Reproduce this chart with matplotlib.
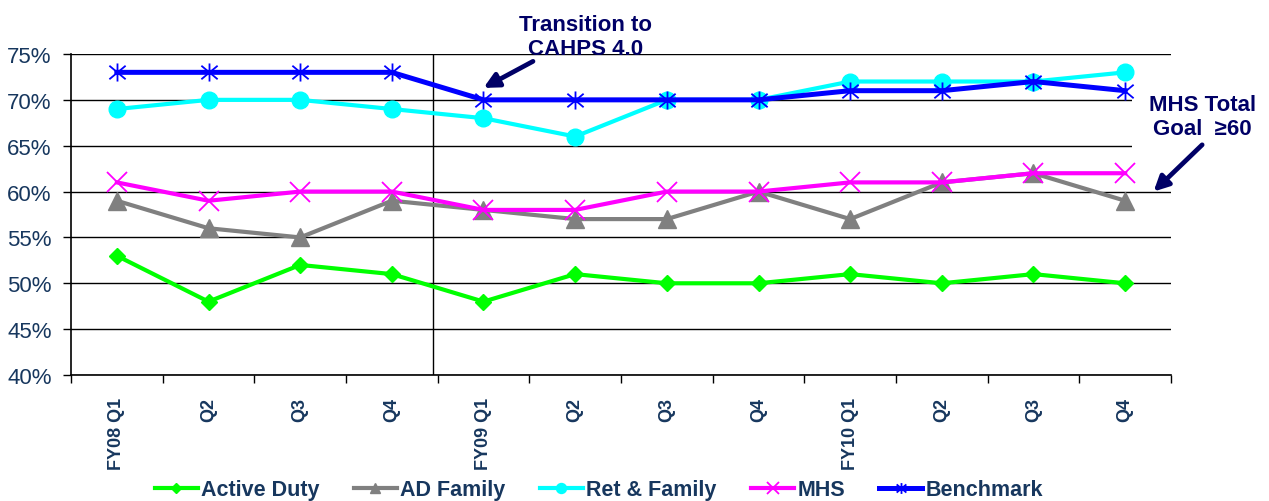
import matplotlib
matplotlib.use("Agg")
import matplotlib.pyplot as plt
from matplotlib.path import Path
from matplotlib.ticker import FuncFormatter, MultipleLocator, FixedLocator

plt.rcParams['font.family'] = ['Liberation Sans', 'DejaVu Sans']

# Quarterly survey results (%)
quarters = ["FY08 Q1", "Q2", "Q3", "Q4",
            "FY09 Q1", "Q2", "Q3", "Q4",
            "FY10 Q1", "Q2", "Q3", "Q4"]
active_duty = [53, 48, 52, 51, 48, 51, 50, 50, 51, 50, 51, 50]
ad_family = [59, 56, 55, 59, 58, 57, 57, 60, 57, 61, 62, 59]
ret_family = [69, 70, 70, 69, 68, 66, 70, 70, 72, 72, 72, 73]
mhs = [61, 59, 60, 60, 58, 58, 60, 60, 61, 61, 62, 62]
benchmark = [73, 73, 73, 73, 70, 70, 70, 70, 71, 71, 72, 71]

series_names = ["Active Duty", "AD Family", "Ret & Family", "MHS", "Benchmark"]
goal_value = 60

NAVY_TEXT = "#17375E"
NOTE = "#000066"

# asterisk marker: vertical stroke plus an X
asterisk = Path(
    [(0, -1), (0, 1), (-0.9, -0.75), (0.9, 0.75), (-0.9, 0.75), (0.9, -0.75)],
    [Path.MOVETO, Path.LINETO, Path.MOVETO, Path.LINETO, Path.MOVETO, Path.LINETO],
)

fig = plt.figure(figsize=(12.69, 5.02), dpi=100)
ax = fig.add_axes([71 / 1269, 1 - 376 / 502, 1100 / 1269, 321 / 502])

x = list(range(len(quarters)))
styles = [
    dict(color="#00FF00", marker="D", markersize=8.5, lw=3),
    dict(color="#808080", marker="^", markersize=12.5, lw=3),
    dict(color="#00FFFF", marker="o", markersize=12, lw=3),
    dict(color="#FF00FF", marker="x", markersize=14, markeredgewidth=1.3, lw=3),
    dict(color="#0000FF", marker=asterisk, markersize=13, markeredgewidth=1.3,
         markerfacecolor="none", lw=3.6),
]
for vals, name, st in zip([active_duty, ad_family, ret_family, mhs, benchmark],
                          series_names, styles):
    ax.plot(x, vals, label=name, zorder=3, **st)

ax.set_xlim(-0.5, len(quarters) - 0.5)
ax.set_ylim(40, 75)

# y axis
ax.yaxis.set_major_locator(MultipleLocator(5))
ax.yaxis.set_major_formatter(FuncFormatter(lambda v, p: f"{v:.0f}%"))
ax.tick_params(axis="y", direction="out", length=6, width=1, color="black",
               labelsize=16, labelcolor=NAVY_TEXT, pad=8)
ax.set_axisbelow(True)
ax.grid(axis="y", color="black", lw=1.0, zorder=0.5)

# x axis: labels at category centres, ticks at boundaries
ax.set_xticks(x)
ax.set_xticklabels(quarters, rotation=90, fontsize=13, fontweight="bold",
                   color=NAVY_TEXT, va="top", ha="center")
ax.tick_params(axis="x", which="major", length=0, pad=16)
ax.xaxis.set_minor_locator(FixedLocator([i - 0.5 for i in range(len(quarters) + 1)]))
ax.tick_params(axis="x", which="minor", direction="out", length=6, width=1, color="black")

for side in ("top", "right"):
    ax.spines[side].set_visible(False)
for side in ("left", "bottom"):
    ax.spines[side].set_color("black")
    ax.spines[side].set_linewidth(1.2)

# divider between FY08 and FY09
ax.axvline(3.45, color="black", lw=1.0, zorder=1)

# annotations
ax.text(5.11, 76.9, "Transition to\nCAHPS 4.0", ha="center", va="center",
        fontsize=16, fontweight="bold", color=NOTE, linespacing=1.15,
        clip_on=False)
ax.annotate("", xy=(4.0, 71.3), xytext=(4.54, 74.2),
            arrowprops=dict(arrowstyle="-|>", color=NOTE, lw=3.4,
                            mutation_scale=22, shrinkA=0, shrinkB=0),
            annotation_clip=False, zorder=4)

ax.text(11.84, 68.2, "MHS Total\nGoal  \u2265" + str(goal_value), ha="center", va="center",
        fontsize=16, fontweight="bold", color=NOTE, linespacing=1.15,
        clip_on=False, zorder=1.5,
        bbox=dict(facecolor="white", edgecolor="none", pad=12))
ax.annotate("", xy=(11.31, goal_value), xytext=(11.84, 65.1),
            arrowprops=dict(arrowstyle="-|>", color=NOTE, lw=3.4,
                            mutation_scale=22, shrinkA=0, shrinkB=0),
            annotation_clip=False, zorder=4)

leg = fig.legend(loc="center", bbox_to_anchor=(0.472, 0.022), ncol=5, frameon=False,
                 prop=dict(weight="bold", size=15.5), handlelength=2.0,
                 handletextpad=0.15, columnspacing=1.6, markerscale=0.6)
for t in leg.get_texts():
    t.set_color(NAVY_TEXT)

fig.savefig("out.png", dpi=100)
